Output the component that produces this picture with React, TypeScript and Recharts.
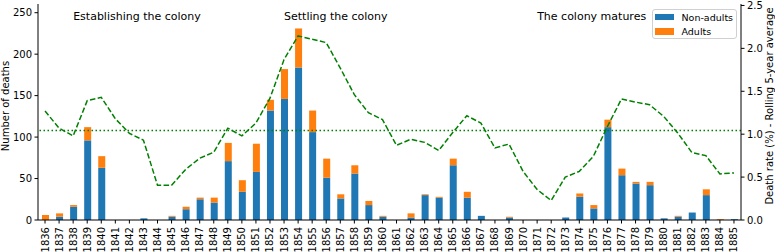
import React from 'react';
import {
  ComposedChart,
  Bar,
  Line,
  XAxis,
  YAxis,
  Legend,
  ReferenceLine,
  ReferenceDot,
} from 'recharts';

const FONT = '"DejaVu Sans", sans-serif';
const BLUE = '#1f77b4';
const ORANGE = '#ff7f0e';
const GREEN = '#008000';

const YEARS = [
  '1836', '1837', '1838', '1839', '1840', '1841', '1842', '1843', '1844', '1845',
  '1846', '1847', '1848', '1849', '1850', '1851', '1852', '1853', '1854', '1855',
  '1856', '1857', '1858', '1859', '1860', '1861', '1862', '1863', '1864', '1865',
  '1866', '1867', '1868', '1869', '1870', '1871', '1872', '1873', '1874', '1875',
  '1876', '1877', '1878', '1879', '1880', '1881', '1882', '1883', '1884', '1885',
];

const NON_ADULTS = [
  0, 4, 16, 96, 63, 0, 0, 2, 0, 4,
  13, 25, 21, 71, 34, 58, 132, 146, 184, 106,
  51, 26, 56, 18, 4, 0, 3, 30, 27, 66,
  27, 5, 0, 3, 0, 0, 0, 3, 28, 14,
  112, 54, 44, 42, 2, 4, 9, 30, 0, 1,
];

const ADULTS = [
  6, 4, 2, 16, 14, 0, 0, 0, 0, 1,
  3, 2, 6, 22, 14, 34, 13, 36, 47, 26,
  23, 5, 10, 5, 1, 0, 5, 1, 1, 8,
  7, 0, 0, 1, 0, 0, 0, 0, 4, 4,
  9, 8, 2, 4, 0, 1, 0, 7, 1, 0,
];

// death rate in %, rolling 5-year average
const DEATH_RATE = [
  1.27, 1.07, 0.98, 1.39, 1.43, 1.18, 1.01, 0.93, 0.405, 0.405,
  0.59, 0.72, 0.79, 1.07, 0.98, 1.13, 1.42, 1.87, 2.145, 2.107,
  2.067, 1.77, 1.46, 1.25, 1.17, 0.87, 0.94, 0.905, 0.81, 1.02,
  1.215, 1.13, 0.84, 0.885, 0.567, 0.355, 0.227, 0.50, 0.567, 0.742,
  1.09, 1.41, 1.374, 1.343, 1.207, 1.014, 0.788, 0.75, 0.537, 0.549,
];

const MEAN_RATE = 1.044;

const PERIODS = [
  { year: '1838', text: 'Establishing the colony' },
  { year: '1853', text: 'Settling the colony' },
  { year: '1871', text: 'The colony matures' },
];

const SERIES = [
  { key: 'nonAdults', name: 'Non-adults', color: BLUE },
  { key: 'adults', name: 'Adults', color: ORANGE },
];

const data = YEARS.map((year, i) => ({
  year,
  nonAdults: NON_ADULTS[i],
  adults: ADULTS[i],
  rate: DEATH_RATE[i],
}));

const YearTick = ({ x, y, payload }: any) => (
  <text
    x={x}
    y={y}
    transform={`rotate(-90 ${x} ${y})`}
    textAnchor="end"
    dominantBaseline="central"
    fontSize={10}
    fontFamily={FONT}
    fill="#000"
  >
    {payload.value}
  </text>
);

const sideLabel = (text: string, dx: number) => ({ viewBox }: any) => {
  const cx = viewBox.x + dx;
  const cy = 106;
  return (
    <text
      x={cx}
      y={cy}
      transform={`rotate(-90 ${cx} ${cy})`}
      textAnchor="middle"
      dominantBaseline="central"
      fontSize={10}
      fontFamily={FONT}
      fill="#000"
    >
      {text}
    </text>
  );
};

const periodNote = (text: string) => ({ cx, cy }: any) => (
  <text
    x={cx}
    y={cy}
    textAnchor="start"
    dominantBaseline="central"
    fontSize={11}
    fontFamily={FONT}
    fill="#000"
  >
    {text}
  </text>
);

const LegendBox = () => (
  <div
    style={{
      position: 'relative',
      width: 83,
      height: 28,
      border: '1px solid #d0d0d0',
      borderRadius: 3,
      background: 'rgba(255,255,255,0.8)',
      fontFamily: FONT,
      fontSize: 9.5,
      color: '#000',
    }}
  >
    {SERIES.map((s, i) => (
      <div
        key={s.key}
        style={{
          position: 'absolute',
          left: 2,
          top: 1 + i * 14.7,
          height: 12,
          display: 'flex',
          alignItems: 'center',
          whiteSpace: 'nowrap',
        }}
      >
        <span style={{ display: 'inline-block', width: 19, height: 6.5, background: s.color, marginRight: 7.5 }} />
        {s.name}
      </div>
    ))}
  </div>
);

const axisStroke = '#000';

export default function App() {
  return (
    <div style={{ position: 'absolute', left: 0, top: 0, background: '#fff' }}>
      <ComposedChart
        width={775}
        height={252}
        data={data}
        margin={{ top: 4, right: 0, bottom: 0, left: 0 }}
        barCategoryGap={0}
      >
        <XAxis
          dataKey="year"
          interval={0}
          height={32}
          tickSize={3.5}
          tickMargin={3.5}
          tick={<YearTick />}
          stroke={axisStroke}
          tickLine={{ stroke: axisStroke }}
        />
        <XAxis
          xAxisId="top"
          dataKey="year"
          orientation="top"
          height={0}
          tick={false}
          tickLine={false}
          stroke={axisStroke}
        />
        <YAxis
          yAxisId="left"
          width={38}
          domain={[0, 260.5]}
          ticks={[0, 50, 100, 150, 200, 250]}
          allowDataOverflow
          tickSize={3.5}
          tickMargin={2.5}
          stroke={axisStroke}
          tick={{ fontSize: 10, fill: '#000', fontFamily: FONT }}
          label={{ content: sideLabel('Number of deaths', 5) }}
        />
        <YAxis
          yAxisId="right"
          orientation="right"
          width={34}
          domain={[0, 2.517]}
          ticks={[0, 0.5, 1, 1.5, 2, 2.5]}
          tickFormatter={(v: number) => v.toFixed(1)}
          allowDataOverflow
          tickSize={3.5}
          tickMargin={2.5}
          stroke={axisStroke}
          tick={{ fontSize: 10, fill: '#000', fontFamily: FONT }}
          label={{ content: sideLabel('Death rate (%) - Rolling 5-year average', 28) }}
        />
        <Legend
          layout="horizontal"
          verticalAlign="middle"
          align="center"
          wrapperStyle={{ left: 652, top: 9, width: 85 }}
          content={() => <LegendBox />}
        />
        {SERIES.map((s) => (
          <Bar
            key={s.key}
            dataKey={s.key}
            name={s.name}
            yAxisId="left"
            stackId="deaths"
            fill={s.color}
            barSize={7}
            isAnimationActive={false}
          />
        ))}
        <ReferenceLine
          yAxisId="right"
          y={MEAN_RATE}
          stroke={GREEN}
          strokeWidth={1.5}
          strokeDasharray="1.5 2.5"
        />
        <Line
          yAxisId="right"
          dataKey="rate"
          type="linear"
          stroke={GREEN}
          strokeWidth={1.5}
          strokeDasharray="5.5 2.4"
          dot={false}
          activeDot={false}
          isAnimationActive={false}
        />
        {PERIODS.map((p) => (
          <ReferenceDot
            key={p.year}
            yAxisId="left"
            x={p.year}
            y={245.4}
            r={0}
            shape={periodNote(p.text)}
          />
        ))}
      </ComposedChart>
    </div>
  );
}
